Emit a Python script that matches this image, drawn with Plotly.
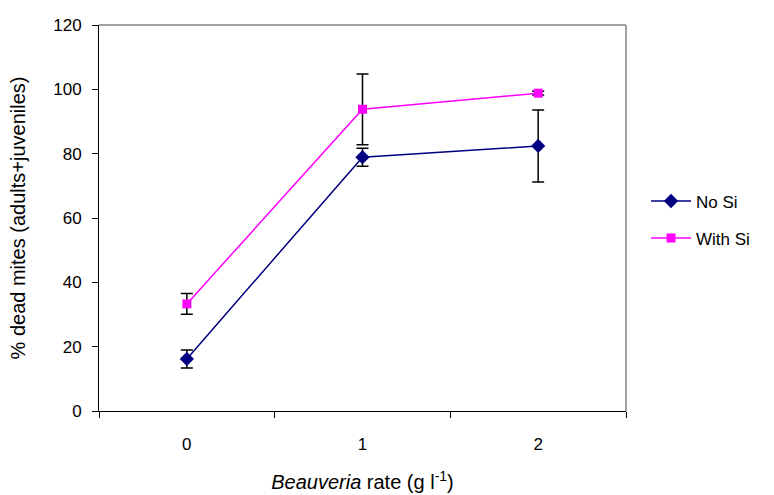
import plotly.graph_objects as go

rates = ["0", "1", "2"]
no_si = [16.2, 78.9, 82.4]
no_si_err = [2.8, 2.8, 11.2]
with_si = [33.3, 93.8, 98.8]
with_si_err = [3.2, 11.0, 0.6]

fig = go.Figure()
fig.add_trace(go.Scatter(
    x=rates, y=no_si, name="No Si", mode="lines+markers",
    line=dict(color="#000080", width=1.5),
    marker=dict(symbol="diamond", size=11, color="#000080"),
    error_y=dict(type="data", array=no_si_err, visible=True, color="black", thickness=1.5, width=6),
    legendgroup="a",
))
fig.add_trace(go.Scatter(
    x=rates, y=with_si, name="With Si", mode="lines+markers",
    line=dict(color="#FF00FF", width=1.5),
    marker=dict(symbol="square", size=9, color="#FF00FF"),
    error_y=dict(type="data", array=with_si_err, visible=True, color="black", thickness=1.5, width=6),
    legendgroup="b",
))

font = dict(family="Arial, Liberation Sans, sans-serif", size=17, color="black")
fig.update_layout(
    width=774, height=495,
    margin=dict(l=99, r=148, t=25, b=84),
    paper_bgcolor="white", plot_bgcolor="white",
    font=font,
    showlegend=True,
    legend=dict(x=1.038, y=0.495, xanchor="left", yanchor="middle",
                font=dict(size=17), tracegroupgap=12, itemwidth=40,
                bgcolor="rgba(0,0,0,0)"),
    shapes=[
        dict(type="line", xref="paper", yref="paper", x0=0, x1=1, y0=1, y1=1,
             line=dict(color="#808080", width=1.5)),
        dict(type="line", xref="paper", yref="paper", x0=1, x1=1, y0=0, y1=1,
             line=dict(color="#808080", width=1.5)),
    ],
)
fig.update_xaxes(
    type="category", tickson="boundaries", ticks="outside", ticklen=6,
    tickcolor="black", showline=True, linecolor="black", linewidth=1,
    showgrid=False, zeroline=False, range=[-0.5, 2.5],
    title=dict(text="<i>Beauveria</i> rate (g l<sup>-1</sup>)", standoff=21),
    tickfont=dict(size=17), ticklabelstandoff=18, automargin=False,
)
fig.update_yaxes(
    range=[0, 120], dtick=20, ticks="outside", ticklen=6, tickcolor="black",
    showline=True, linecolor="black", linewidth=1, showgrid=False, zeroline=False,
    title=dict(text="% dead mites (adults+juveniles)", standoff=22),
    tickfont=dict(size=17), ticklabelstandoff=7, automargin=False,
)
fig.write_html("out.html")
